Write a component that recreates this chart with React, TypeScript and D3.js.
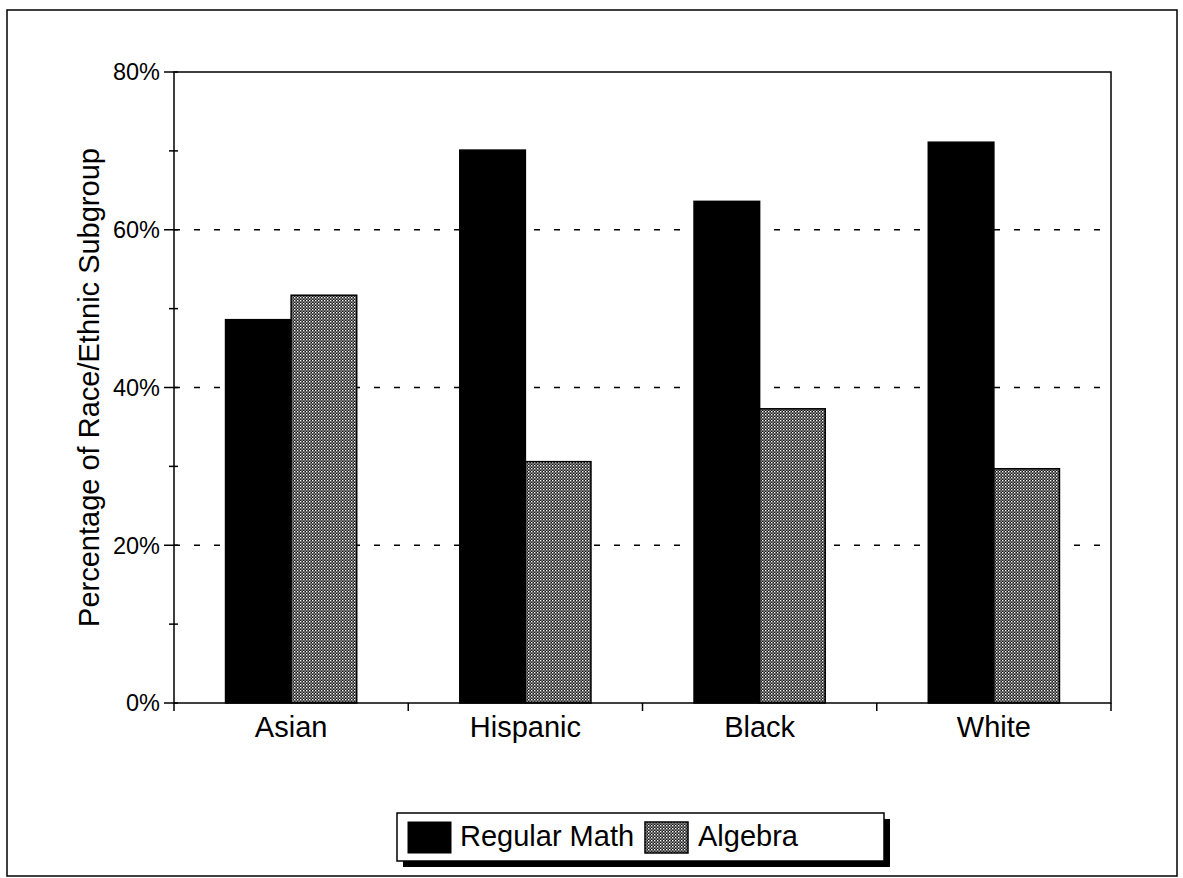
import React from "react";
import * as d3 from "d3";

const categories = ["Asian", "Hispanic", "Black", "White"];
const seriesNames = ["Regular Math", "Algebra"];
const regularMath = [48.6, 70.1, 63.6, 71.1];
const algebra = [51.7, 30.6, 37.3, 29.7];
const yTicks = [0, 20, 40, 60, 80];
const yMinorTicks = [10, 30, 50, 70];
const gridTicks = [20, 40, 60];

const W = 1183;
const H = 878;
const margin = { left: 174, right: 72, top: 72, bottom: 175 };

export default function App() {
  const x = d3
    .scaleBand<string>()
    .domain(categories)
    .range([margin.left, W - margin.right])
    .padding(0);
  const y = d3.scaleLinear().domain([0, 80]).range([H - margin.bottom, margin.top]);
  const bw = x.bandwidth();
  const groupHalf = bw * 0.28;
  const inner = d3.scaleBand<string>().domain(seriesNames).range([-groupHalf, groupHalf]).padding(0);
  const values = [regularMath, algebra];
  const fills = ["#000", "url(#dither)"];
  const font = "'Liberation Sans', Arial, Helvetica, sans-serif";
  const x0 = margin.left;
  const x1 = W - margin.right;
  const yb = y(0);

  return (
    <svg width={W} height={H} style={{ position: "absolute", left: 0, top: 0 }} fontFamily={font}>
      <defs>
        <pattern id="dither" width="3" height="3" patternUnits="userSpaceOnUse">
          <rect width="3" height="3" fill="#1a1a1a" />
          <rect x="0" y="0" width="1.4" height="1.4" fill="#fff" />
          <rect x="1.5" y="1.5" width="1.2" height="1.2" fill="#eee" />
        </pattern>
      </defs>
      <rect x={0} y={0} width={W} height={H} fill="#fff" />
      {/* outer frame */}
      <rect x={7} y={10} width={1170} height={866} fill="none" stroke="#000" strokeWidth={1.5} />

      {/* gridlines */}
      {gridTicks.map((t) => (
        <line key={"g" + t} x1={x0} x2={x1} y1={y(t)} y2={y(t)} stroke="#000" strokeWidth={1.5} strokeDasharray="6 14" />
      ))}

      {/* bars */}
      {categories.map((c, i) =>
        seriesNames.map((s, j) => {
          const cx = (x(c) as number) + bw / 2;
          const bx = cx + (inner(s) as number);
          return (
            <rect
              key={c + s}
              x={bx}
              y={y(values[j][i])}
              width={inner.bandwidth()}
              height={yb - y(values[j][i])}
              fill={fills[j]}
              stroke="#000"
              strokeWidth={1.5}
            />
          );
        })
      )}

      {/* plot frame */}
      <rect x={x0} y={margin.top} width={x1 - x0} height={yb - margin.top} fill="none" stroke="#000" strokeWidth={1.5} />

      {/* y ticks */}
      {yTicks.map((t) => (
        <g key={"y" + t}>
          <line x1={x0 - 10} x2={x0 + 4} y1={y(t)} y2={y(t)} stroke="#000" strokeWidth={1.5} />
          <text x={x0 - 14} y={y(t)} dy="0.36em" textAnchor="end" fontSize={23.5}>
            {t + "%"}
          </text>
        </g>
      ))}
      {yMinorTicks.map((t) => (
        <line key={"m" + t} x1={x0 - 5} x2={x0 + 4} y1={y(t)} y2={y(t)} stroke="#000" strokeWidth={1.5} />
      ))}

      {/* x ticks */}
      {[...categories.map((c) => x(c) as number), x1].map((p, i) => (
        <line key={"xt" + i} x1={p} x2={p} y1={yb} y2={yb + 8} stroke="#000" strokeWidth={1.5} />
      ))}
      {categories.map((c) => (
        <text key={"xl" + c} x={(x(c) as number) + bw / 2} y={yb + 34} textAnchor="middle" fontSize={29}>
          {c}
        </text>
      ))}

      {/* y title */}
      <text
        transform={`translate(99, ${(margin.top + yb) / 2}) rotate(-90)`}
        textAnchor="middle"
        fontSize={29}
      >
        Percentage of Race/Ethnic Subgroup
      </text>

      {/* legend */}
      <rect x={403} y={819} width={487} height={48} fill="#000" />
      <rect x={397} y={813} width={487} height={48} fill="#fff" stroke="#000" strokeWidth={1.5} />
      <rect x={408} y={822} width={43} height={31} fill="#000" stroke="#000" strokeWidth={1} />
      <text x={460} y={846} fontSize={29}>
        {seriesNames[0]}
      </text>
      <rect x={645} y={822} width={43} height={31} fill="url(#dither)" stroke="#000" strokeWidth={1.5} />
      <text x={698} y={846} fontSize={29}>
        {seriesNames[1]}
      </text>
    </svg>
  );
}
